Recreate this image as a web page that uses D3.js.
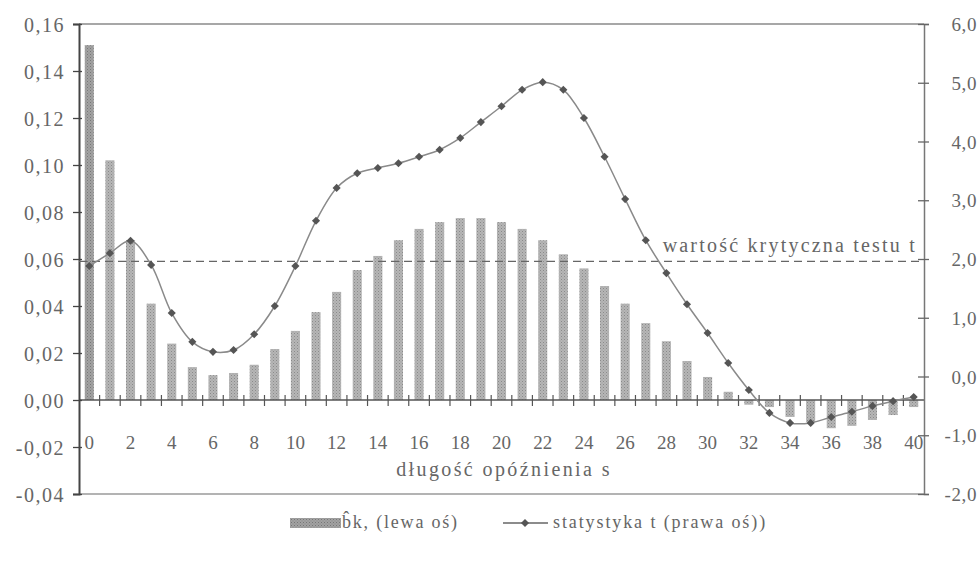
<!DOCTYPE html>
<html><head><meta charset="utf-8">
<script src="https://cdn.jsdelivr.net/npm/d3@7"></script>
<style>body{margin:0;background:#fff}</style></head>
<body><svg id="c" width="978" height="574"></svg>
<script>
// ---- data ----
const lags = [0,1,2,3,4,5,6,7,8,9,10,11,12,13,14,15,16,17,18,19,20,21,22,23,24,25,26,27,28,29,30,31,32,33,34,35,36,37,38,39,40];
const bkValues = [0.151,0.102,0.068,0.041,0.024,0.014,0.0106,0.0115,0.015,0.0217,0.0294,0.0374,0.046,0.0553,0.0613,0.068,0.0728,0.0757,0.0774,0.0774,0.0757,0.0728,0.068,0.062,0.056,0.0485,0.041,0.0327,0.025,0.0166,0.0098,0.0035,-0.002,-0.003,-0.0072,-0.0094,-0.012,-0.011,-0.0085,-0.0064,-0.003];
const tValues = [1.88,2.10,2.31,1.90,1.08,0.59,0.42,0.45,0.72,1.20,1.88,2.65,3.21,3.46,3.55,3.63,3.74,3.86,4.06,4.33,4.60,4.88,5.01,4.88,4.40,3.74,3.02,2.32,1.76,1.23,0.74,0.23,-0.23,-0.62,-0.79,-0.79,-0.69,-0.60,-0.50,-0.42,-0.35];
const leftTicks = [0.16,0.14,0.12,0.10,0.08,0.06,0.04,0.02,0.00,-0.02,-0.04];
const rightTicks = [6,5,4,3,2,1,0,-1,-2];
const xLabelLags = [0,2,4,6,8,10,12,14,16,18,20,22,24,26,28,30,32,34,36,38,40];
const criticalT = 1.96;
const criticalLabel = "wartość krytyczna testu t";
const xTitle = "długość opóźnienia s";
const legendBars = "b\u0302k, (lewa oś)";
const legendLine = "statystyka t (prawa oś))";

// ---- layout ----
const L = 79, R = 924, T = 24, B = 494;
const svg = d3.select("#c");
const font = "'Liberation Serif','DejaVu Serif',serif";
const txt = "#666";

const loc = d3.formatLocale({decimal: ",", thousands: " ", grouping: [3], currency: ["", ""], minus: "-"});
const fL = loc.format(".2f"), fR = loc.format(".1f");

const x = d3.scaleBand().domain(lags).range([L, R]).paddingInner(0.56).paddingOuter(0.28);
const yL = d3.scaleLinear().domain([-0.04, 0.16]).range([B, T]);
const yR = d3.scaleLinear().domain([-2, 6]).range([B, T]);

// pattern for bars
const defs = svg.append("defs");
const pat = defs.append("pattern").attr("id", "dots").attr("width", 3).attr("height", 3).attr("patternUnits", "userSpaceOnUse");
pat.append("rect").attr("width", 3).attr("height", 3).attr("fill", "#b6b6b6");
pat.append("rect").attr("width", 1).attr("height", 1).attr("fill", "#8a8a8a");
pat.append("rect").attr("x", 1.5).attr("y", 1.5).attr("width", 1).attr("height", 1).attr("fill", "#999");
const pat2 = defs.append("pattern").attr("id", "dots2").attr("width", 3).attr("height", 3).attr("patternUnits", "userSpaceOnUse");
pat2.append("rect").attr("width", 3).attr("height", 3).attr("fill", "#a2a2a2");
pat2.append("rect").attr("width", 1).attr("height", 1).attr("fill", "#777");
pat2.append("rect").attr("x", 1.5).attr("y", 1.5).attr("width", 1).attr("height", 1).attr("fill", "#858585");

// frame top & bottom
svg.append("line").attr("x1", L).attr("x2", R).attr("y1", T).attr("y2", T).attr("stroke", "#8a8a8a").attr("stroke-width", 1.5);
svg.append("line").attr("x1", L).attr("x2", R).attr("y1", B).attr("y2", B).attr("stroke", "#9a9a9a").attr("stroke-width", 1.5);

// bars
svg.append("g").selectAll("rect").data(lags).join("rect")
  .attr("x", d => x(d))
  .attr("width", x.bandwidth())
  .attr("y", (d, i) => yL(Math.max(0, bkValues[i])))
  .attr("height", (d, i) => Math.abs(yL(bkValues[i]) - yL(0)))
  .attr("fill", (d, i) => i === 0 ? "url(#dots2)" : "url(#dots)");

// zero line (x axis)
svg.append("line").attr("x1", L).attr("x2", R).attr("y1", yL(0)).attr("y2", yL(0)).attr("stroke", "#555").attr("stroke-width", 1.3);
const gap = (x.step() - x.bandwidth()) / 2;
svg.append("g").selectAll("line").data(lags.slice(1)).join("line")
  .attr("x1", d => x(d) - gap).attr("x2", d => x(d) - gap)
  .attr("y1", yL(0) - 5).attr("y2", yL(0) + 6)
  .attr("stroke", "#555").attr("stroke-width", 1.2);

// x labels
svg.append("g").selectAll("text").data(xLabelLags).join("text")
  .attr("x", d => x(d) + x.bandwidth() / 2)
  .attr("y", 449)
  .attr("text-anchor", "middle")
  .attr("font-family", font).attr("font-size", 19).attr("fill", txt)
  .text(d => d);

svg.append("text").attr("x", 504).attr("y", 476).attr("text-anchor", "middle")
  .attr("font-family", font).attr("font-size", 20).attr("letter-spacing", 2.4).attr("fill", txt)
  .text(xTitle);

// left axis
const gl = svg.append("g").attr("transform", `translate(${L},0)`)
  .call(d3.axisLeft(yL).tickValues(leftTicks).tickFormat(fL).tickSize(6).tickPadding(8));
gl.select(".domain").attr("stroke", "#444").attr("stroke-width", 2);
gl.selectAll(".tick line").attr("stroke", "#444").attr("stroke-width", 1.3).attr("x2", -6).attr("x1", 3);
gl.selectAll(".tick text").attr("font-family", font).attr("font-size", 20).attr("letter-spacing", 1.5).attr("fill", txt).attr("dy", "0.35em");

// right axis
const gr = svg.append("g").attr("transform", `translate(${R},0)`)
  .call(d3.axisRight(yR).tickValues(rightTicks).tickFormat(fR).tickSize(5));
gr.select(".domain").attr("stroke", "#777").attr("stroke-width", 1.5);
gr.selectAll(".tick line").attr("stroke", "#666").attr("stroke-width", 1.3).attr("x1", -6).attr("x2", 5);
gr.selectAll(".tick text").attr("font-family", font).attr("font-size", 19).attr("letter-spacing", 0.6)
  .attr("fill", txt).attr("dy", "0.35em").attr("text-anchor", "end").attr("x", 53);

// critical line
svg.append("line").attr("x1", L).attr("x2", R).attr("y1", yR(criticalT)).attr("y2", yR(criticalT))
  .attr("stroke", "#666").attr("stroke-width", 1.4).attr("stroke-dasharray", "8,5");
svg.append("text").attr("x", 917).attr("y", 252).attr("text-anchor", "end")
  .attr("font-family", font).attr("font-size", 20).attr("letter-spacing", 2.2).attr("fill", txt)
  .text(criticalLabel);

// t-stat line
const line = d3.line().x((d, i) => x(lags[i]) + x.bandwidth() / 2).y(d => yR(d)).curve(d3.curveCatmullRom.alpha(0.5));
svg.append("path").datum(tValues).attr("d", line).attr("fill", "none").attr("stroke", "#8a8a8a").attr("stroke-width", 1.5);
const diamond = d3.symbol().type(d3.symbolDiamond2).size(42);
svg.append("g").selectAll("path").data(tValues).join("path")
  .attr("transform", (d, i) => `translate(${x(lags[i]) + x.bandwidth() / 2},${yR(d)})`)
  .attr("d", diamond).attr("fill", "#555");

// legend
const lg = svg.append("g");
lg.append("rect").attr("x", 290).attr("y", 518).attr("width", 51).attr("height", 10).attr("fill", "url(#dots2)");
lg.append("text").attr("x", 342).attr("y", 528).attr("font-family", font).attr("font-size", 18).attr("letter-spacing", 1.8).attr("fill", txt).text(legendBars);
lg.append("line").attr("x1", 503).attr("x2", 548).attr("y1", 523).attr("y2", 523).attr("stroke", "#666").attr("stroke-width", 1.4);
lg.append("path").attr("transform", "translate(525,523)").attr("d", diamond).attr("fill", "#555");
lg.append("text").attr("x", 553).attr("y", 528).attr("font-family", font).attr("font-size", 18).attr("letter-spacing", 1.9).attr("fill", txt).text(legendLine);
</script>
</body></html>
